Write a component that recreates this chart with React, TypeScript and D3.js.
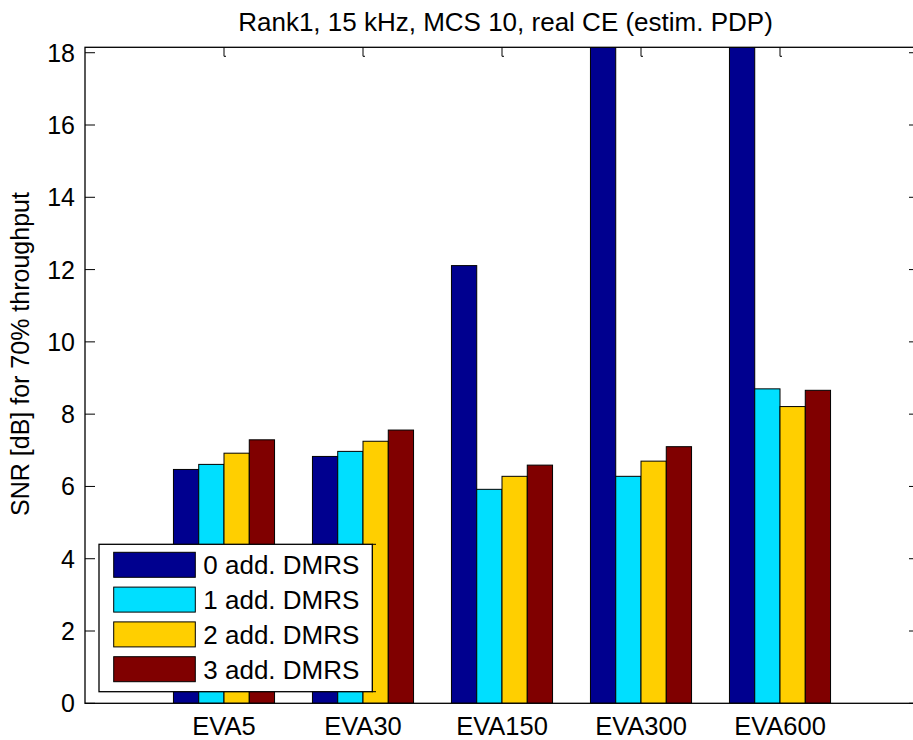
import React from "react";
import * as d3 from "d3";

const categories = ["EVA5", "EVA30", "EVA150", "EVA300", "EVA600"];
const seriesNames = ["0 add. DMRS", "1 add. DMRS", "2 add. DMRS", "3 add. DMRS"];
const dmrs0 = [6.47, 6.83, 12.11, 20.5, 20.5];
const dmrs1 = [6.61, 6.97, 5.92, 6.28, 8.7];
const dmrs2 = [6.92, 7.25, 6.28, 6.7, 8.21];
const dmrs3 = [7.29, 7.56, 6.59, 7.1, 8.66];
const series = [dmrs0, dmrs1, dmrs2, dmrs3];
const colors = ["#00008F", "#00DFFF", "#FFCF00", "#800000"];
const yTicks = [0, 2, 4, 6, 8, 10, 12, 14, 16, 18];
const title = "Rank1, 15 kHz, MCS 10, real CE (estim. PDP)";
const yLabel = "SNR [dB] for 70% throughput";

const W = 913;
const H = 740;
const L = 85;
const R = 919;
const T = 47.3;
const B = 703.3;
const FONT = "'Liberation Sans', Arial, Helvetica, sans-serif";

export default function App() {
  const x = d3.scaleLinear().domain([0, 6]).range([L, R]);
  const y = d3.scaleLinear().domain([0, 18.15]).range([B, T]);
  const n = series.length;
  const groupW = Math.min(0.8, n / (n + 1.5));
  const bw = groupW / n;
  const bwPx = x(bw) - x(0);

  return (
    <div style={{ position: "absolute", left: 0, top: 0 }}>
      <svg width={W} height={H} style={{ display: "block", background: "#fff" }}>
        <defs>
          <clipPath id="plotClip">
            <rect x={L} y={T} width={R - L} height={B - T} />
          </clipPath>
        </defs>
        <rect x={0} y={0} width={W} height={H} fill="#fff" />
        {/* bars */}
        <g clipPath="url(#plotClip)">
          {series.map((vals, si) =>
            vals.map((v, ci) => {
              const cx = x(ci + 1) + (si - (n - 1) / 2) * bwPx;
              const top = y(v);
              return (
                <rect
                  key={`${si}-${ci}`}
                  x={cx - bwPx / 2}
                  y={top}
                  width={bwPx}
                  height={B - top}
                  fill={colors[si]}
                  stroke="#000"
                  strokeWidth={1}
                />
              );
            })
          )}
        </g>
        {/* axes box */}
        <rect x={L} y={T} width={R - L} height={B - T} fill="none" stroke="#000" strokeWidth={1.3} />
        {/* y ticks */}
        {yTicks.map((t) => (
          <g key={t}>
            <line x1={L} x2={L + 10} y1={y(t)} y2={y(t)} stroke="#000" strokeWidth={1} />
            <line x1={R - 10} x2={R} y1={y(t)} y2={y(t)} stroke="#000" strokeWidth={1} />
            <text
              x={L - 10}
              y={y(t)}
              textAnchor="end"
              dominantBaseline="central"
              fontFamily={FONT}
              fontSize={25}
              fill="#000"
            >
              {t}
            </text>
          </g>
        ))}
        {/* x ticks top + labels */}
        {categories.map((c, i) => (
          <g key={c}>
            <path
              d={`M${x(i + 1)},${T} V${T + 9} h2`}
              fill="none"
              stroke="#000"
              strokeWidth={1}
            />
            <text
              x={x(i + 1)}
              y={735}
              textAnchor="middle"
              fontFamily={FONT}
              fontSize={25.5}
              fill="#000"
            >
              {c}
            </text>
          </g>
        ))}
        {/* title */}
        <text
          x={(237 + 774) / 2}
          y={31}
          textAnchor="middle"
          fontFamily={FONT}
          fontSize={26}
          fill="#000"
        >
          {title}
        </text>
        {/* y label */}
        <text
          transform={`translate(29, ${(195 + 513) / 2}) rotate(-90)`}
          textAnchor="middle"
          fontFamily={FONT}
          fontSize={25}
          fill="#000"
        >
          {yLabel}
        </text>
        {/* legend */}
        <g>
          <rect x={99} y={544.3} width={273.3} height={147.4} fill="#fff" stroke="#000" strokeWidth={1.3} />
          <line x1={372.3} x2={376} y1={544.3} y2={544.3} stroke="#000" strokeWidth={1} />
          <line x1={372.3} x2={376} y1={691.7} y2={691.7} stroke="#000" strokeWidth={1} />
          {seriesNames.map((s, i) => {
            const ry = 552.3 + i * 34.8;
            return (
              <g key={s}>
                <rect x={113.7} y={ry} width={81.6} height={25} fill={colors[i]} stroke="#000" strokeWidth={1} />
                <text
                  x={203.3}
                  y={ry + 13}
                  dominantBaseline="central"
                  fontFamily={FONT}
                  fontSize={26}
                  fill="#000"
                >
                  {s}
                </text>
              </g>
            );
          })}
        </g>
      </svg>
    </div>
  );
}
